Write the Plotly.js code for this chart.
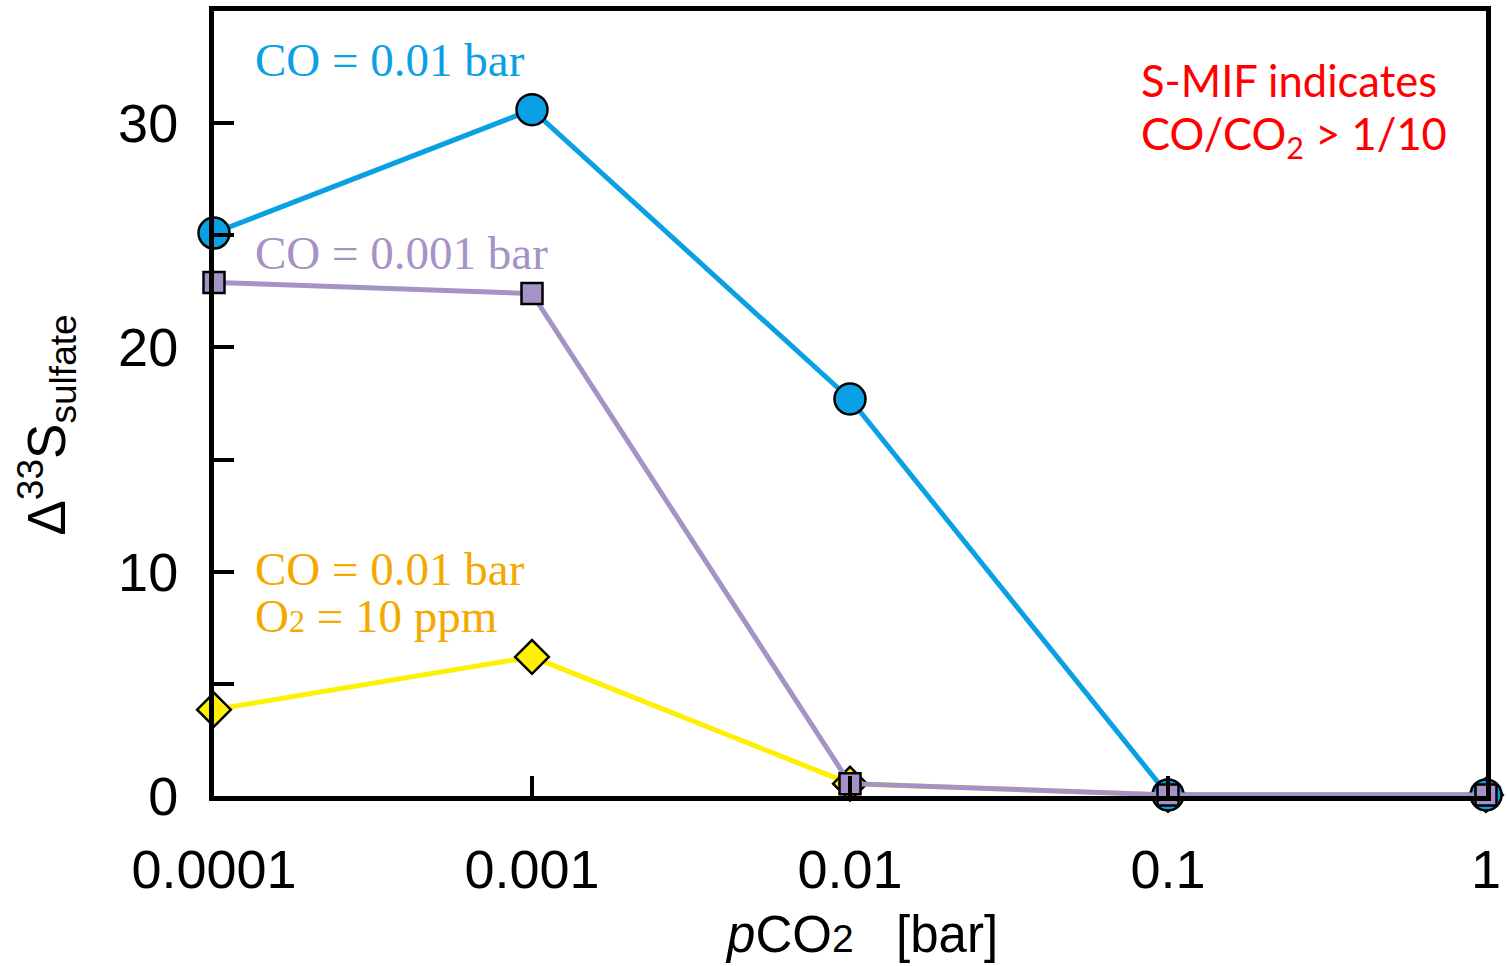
<!DOCTYPE html>
<html>
<head>
<meta charset="utf-8">
<script src="https://cdn.plot.ly/plotly-3.0.1.min.js"></script>
<style>html,body{margin:0;padding:0;background:#fff;}#chart{width:1507px;height:966px;}</style>
</head>
<body>
<div id="chart"></div>
<script>
// pCO2 [bar]
const pco2 = [0.0001, 0.001, 0.01, 0.1, 1];
// Δ33S sulfate series
const co001 = [25.1, 30.6, 17.7, 0.05, 0.05];          // CO = 0.01 bar
const co0001 = [22.9, 22.4, 0.55, 0.05, 0.05];         // CO = 0.001 bar
const co001O2 = [3.85, 6.2, 0.55, 0.05, 0.05];          // CO = 0.01 bar, O2 = 10 ppm
const xTickVals = [0.0001, 0.001, 0.01, 0.1, 1];
const xTickText = ['0.0001', '0.001', '0.01', '0.1', '1'];
const yTickVals = [0, 5, 10, 15, 20, 25, 30];
const yTickText = ['0', '', '10', '', '20', '', '30'];

const traces = [
  {x: pco2, y: co001O2, mode: 'lines+markers', name: 'CO = 0.01 bar, O2 = 10 ppm',
   line: {color: '#FFF000', width: 5},
   marker: {symbol: 'diamond', size: 26, color: '#FFF000', line: {color: '#000', width: 2.5}},
   cliponaxis: false},
  {x: pco2, y: co001, mode: 'lines+markers', name: 'CO = 0.01 bar',
   line: {color: '#0AA0E4', width: 5},
   marker: {symbol: 'circle', size: 31, color: '#0AA0E4', line: {color: '#000', width: 2.5}},
   cliponaxis: false},
  {x: pco2, y: co0001, mode: 'lines+markers', name: 'CO = 0.001 bar',
   line: {color: '#A592C6', width: 5},
   marker: {symbol: 'square', size: 21, color: '#A592C6', line: {color: '#000', width: 2.5}},
   cliponaxis: false}
];

const serif = 'Liberation Serif, Times New Roman, serif';
const sans = 'Liberation Sans, Arial, sans-serif';

const layout = {
  width: 1507, height: 966,
  margin: {l: 214, r: 21, t: 11, b: 170},
  paper_bgcolor: '#fff', plot_bgcolor: '#fff',
  showlegend: false,
  xaxis: {
    type: 'log', range: [-4, 0],
    tickmode: 'array', tickvals: xTickVals, ticktext: xTickText,
    ticks: 'inside', ticklen: 20, tickwidth: 4, tickcolor: '#000',
    showline: true, linecolor: '#000', linewidth: 5, mirror: true,
    showgrid: false, zeroline: false,
    tickfont: {family: sans, size: 54, color: '#000'},
    ticklabelstandoff: 22
  },
  yaxis: {
    range: [0, 35],
    tickmode: 'array', tickvals: yTickVals, ticktext: yTickText,
    ticks: 'inside', ticklen: 20, tickwidth: 4, tickcolor: '#000',
    showline: true, linecolor: '#000', linewidth: 5, mirror: true,
    showgrid: false, zeroline: false,
    tickfont: {family: sans, size: 54, color: '#000'},
    ticklabelstandoff: 20
  },
  annotations: [
    // axis titles
    {xref: 'paper', yref: 'paper', x: 0.509, y: -0.177, xanchor: 'center', yanchor: 'middle', showarrow: false,
     text: '<i>p</i>CO<span style="font-size:39px">2</span>\u00a0\u00a0\u00a0[bar]', font: {family: sans, size: 51, color: '#000'}},
    {xref: 'paper', yref: 'paper', x: -0.132, y: 0.472, xanchor: 'center', yanchor: 'middle', showarrow: false, textangle: -90,
     text: '\u0394<sup>33</sup>S<sub>sulfate</sub>', font: {family: sans, size: 53, color: '#000'}},
    // series labels
    {xref: 'paper', yref: 'paper', x: 0.0307, y: 0.9376, xanchor: 'left', yanchor: 'middle', showarrow: false,
     text: 'CO = 0.01 bar', font: {family: serif, size: 47, color: '#0AA0E4'}},
    {xref: 'paper', yref: 'paper', x: 0.0307, y: 0.6917, xanchor: 'left', yanchor: 'middle', showarrow: false,
     text: 'CO = 0.001 bar', font: {family: serif, size: 47, color: '#A592C6'}},
    {xref: 'paper', yref: 'paper', x: 0.0307, y: 0.289, xanchor: 'left', yanchor: 'middle', showarrow: false,
     text: 'CO = 0.01 bar', font: {family: serif, size: 47, color: '#F5A800'}},
    {xref: 'paper', yref: 'paper', x: 0.0307, y: 0.229, xanchor: 'left', yanchor: 'middle', showarrow: false,
     text: 'O<span style="font-size:32px">2</span> = 10 ppm', font: {family: serif, size: 47, color: '#F5A800'}},
    {xref: 'paper', yref: 'paper', x: 0.727, y: 0.912, xanchor: 'left', yanchor: 'middle', showarrow: false,
     text: 'S-MIF indicates', font: {family: 'Lato, sans-serif', size: 43.5, color: '#FF0000'}},
    {xref: 'paper', yref: 'paper', x: 0.727, y: 0.841, xanchor: 'left', yanchor: 'middle', showarrow: false,
     text: 'CO/CO<sub>2</sub> > 1/10', font: {family: 'Lato, sans-serif', size: 43.5, color: '#FF0000'}}
  ]
};

Plotly.newPlot('chart', traces, layout, {displayModeBar: false, staticPlot: true});
</script>
</body>
</html>
